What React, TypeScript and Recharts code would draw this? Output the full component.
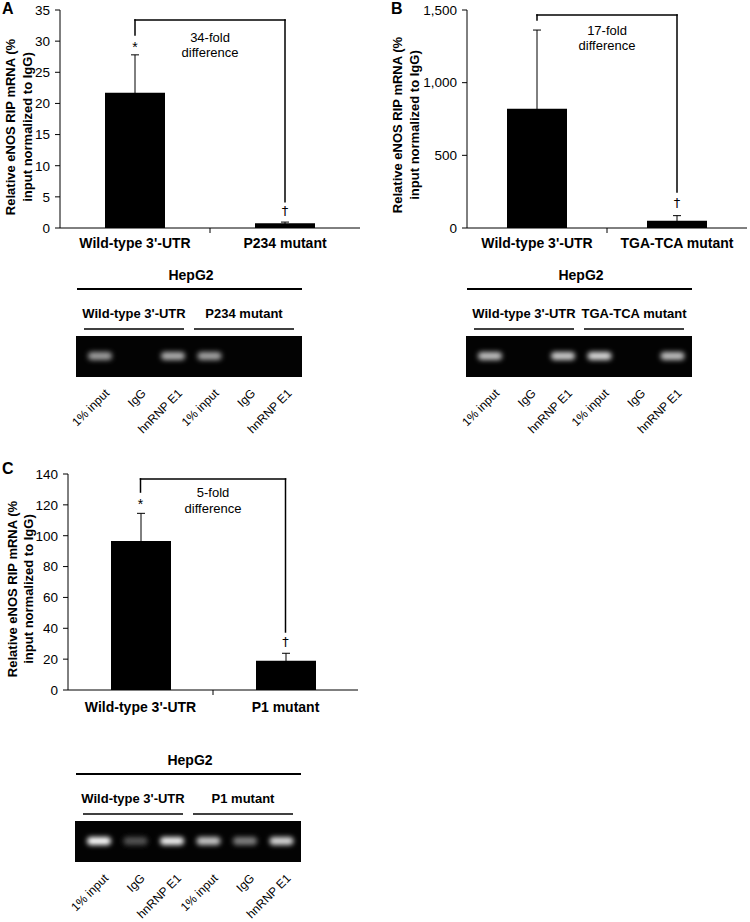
import React from 'react';
import { BarChart, Bar, XAxis, YAxis, ErrorBar, ReferenceLine, ReferenceDot, Label } from 'recharts';

const FONT = '"Liberation Sans", Arial, Helvetica, sans-serif';

// ---------- Panel A ----------
const catsA = ["Wild-type 3'-UTR", 'P234 mutant'];
const meansA = [21.7, 0.75];
const errsA = [6.1, 0.2];
const ticksA = [0, 5, 10, 15, 20, 25, 30, 35];
const bracketA = [33.4, 31.0, 4.2]; // top, left end, right end
const marksA = ['*', '†'];
const markYA = [29.1, 2.8];
const foldA = ['34-fold', 'difference'];

// ---------- Panel B ----------
const catsB = ["Wild-type 3'-UTR", 'TGA-TCA mutant'];
const meansB = [821, 50];
const errsB = [541, 35];
const ticksB = [0, 500, 1000, 1500];
const bracketB = [1466, 1431, 248];
const marksB = ['', '†'];
const markYB = [0, 174];
const foldB = ['17-fold', 'difference'];

// ---------- Panel C ----------
const catsC = ["Wild-type 3'-UTR", 'P1 mutant'];
const meansC = [96.5, 19];
const errsC = [18, 4.8];
const ticksC = [0, 20, 40, 60, 80, 100, 120, 140];
const bracketC = [136.8, 128.3, 37.6];
const marksC = ['*', '†'];
const markYC = [120.3, 31.3];
const foldC = ['5-fold', 'difference'];

// ---------- Gels ----------
const laneLabels = ['1% input', 'IgG', 'hnRNP E1', '1% input', 'IgG', 'hnRNP E1'];
const groupsA = ["Wild-type 3'-UTR", 'P234 mutant'];
const groupsB = ["Wild-type 3'-UTR", 'TGA-TCA mutant'];
const groupsC = ["Wild-type 3'-UTR", 'P1 mutant'];
const bandsA = [0.62, 0, 0.68, 0.64, 0, 0];
const bandsB = [0.75, 0, 0.8, 0.85, 0, 0.75];
const bandsC = [1.0, 0.32, 0.95, 0.78, 0.5, 0.85];
const cellLine = 'HepG2';

const yLabel1 = 'Relative eNOS RIP mRNA (%';
const yLabel2 = 'input normalized to IgG)';

const fmtComma = (v: number) => v.toLocaleString('en-US');

const GEL_W = 226;
const GEL_STEP = 36.5;
const gelPos = [
  { uid: 'a', x: 76, lineY: 289, groups: groupsA, bands: bandsA },
  { uid: 'b', x: 466, lineY: 289, groups: groupsB, bands: bandsB },
  { uid: 'c', x: 75, lineY: 774, groups: groupsC, bands: bandsC },
];

const CatTick = (props: any) => {
  const { x, y, payload, index, plotW, labelDy } = props;
  return (
    <g>
      <text x={x} y={y + labelDy} textAnchor="middle" dominantBaseline="central"
        fontWeight="bold" fontSize={14} fontFamily={FONT} fill="#000">{payload.value}</text>
      {index === 0 && (
        <line x1={x + plotW / 4} x2={x + plotW / 4} y1={y} y2={y + 5} stroke="#000" strokeWidth={1} />
      )}
    </g>
  );
};

const YLab = (props: any) => {
  const vb = props.viewBox || {};
  const cy = vb.y + vb.height / 2 + props.shift;
  const x1 = vb.x + props.off1;
  const x2 = vb.x + props.off2;
  return (
    <g>
      <g transform={`translate(${x1},${cy}) rotate(-90)`}>
        <text x={0} y={0} textAnchor="middle" dominantBaseline="central"
          fontWeight="bold" fontSize={13} fontFamily={FONT} fill="#000">{yLabel1}</text>
      </g>
      <g transform={`translate(${x2},${cy}) rotate(-90)`}>
        <text x={0} y={0} textAnchor="middle" dominantBaseline="central"
          fontWeight="bold" fontSize={13} fontFamily={FONT} fill="#000">{yLabel2}</text>
      </g>
    </g>
  );
};

const FoldLab = (props: any) => {
  const vb = props.viewBox || {};
  const cx = vb.x + (vb.width || 0) / 2;
  return (
    <g>
      <text x={cx} y={vb.y + props.d1} textAnchor="middle" dominantBaseline="central" fontSize={13}
        fontFamily={FONT} fill="#000">{props.lines[0]}</text>
      <text x={cx} y={vb.y + props.d2} textAnchor="middle" dominantBaseline="central" fontSize={13}
        fontFamily={FONT} fill="#000">{props.lines[1]}</text>
    </g>
  );
};

const MarkLab = (props: any) => {
  const vb = props.viewBox || {};
  const cx = vb.x + (vb.width || 0) / 2;
  const cy = vb.y + (vb.height || 0) / 2;
  const isDagger = props.mark === '†';
  return (
    <text x={cx} y={cy} textAnchor="middle" dominantBaseline="central" fontSize={isDagger ? 13 : 14}
      fontFamily={isDagger ? '"DejaVu Sans", ' + FONT : FONT} fill="#000" stroke="none">{props.mark}</text>
  );
};

function Panel(p: any) {
  const data = p.cats.map((c: string, i: number) => ({ cat: c, mean: p.means[i], err: p.errs[i] }));
  const plotW = p.width - p.margin.left - p.margin.right - p.yWidth;
  const [bTop, bLeft, bRight] = p.bracket;
  const lineProps = { stroke: '#000', strokeWidth: 1.5, strokeLinecap: 'square' as const, ifOverflow: 'visible' as const };
  return (
    <div style={{ position: 'absolute', left: p.left, top: p.top }}>
      <BarChart width={p.width} height={p.height} data={data} margin={p.margin} barCategoryGap={0}>
        <XAxis dataKey="cat" height={30} interval={0} axisLine={{ stroke: '#000', strokeWidth: 1 }}
          tickLine={false} tickSize={0} tickMargin={0}
          tick={<CatTick plotW={plotW} labelDy={p.labelDy} />} />
        <YAxis type="number" domain={[0, p.ticks[p.ticks.length - 1]]} ticks={p.ticks} interval={0}
          width={p.yWidth} axisLine={{ stroke: '#000', strokeWidth: 1 }} tickLine={{ stroke: '#000' }}
          tickSize={5} tickMargin={5} tickFormatter={p.fmt}
          tick={{ fill: '#000', fontSize: 13.5, fontFamily: FONT }}>
          <Label content={<YLab off1={p.yl1} off2={p.yl2} shift={p.ylShift} />} />
        </YAxis>
        <Bar dataKey="mean" fill="#000" barSize={60} isAnimationActive={false}>
          <ErrorBar dataKey="err" width={4} stroke="#000" strokeWidth={1} direction="y" isAnimationActive={false} />
        </Bar>
        <ReferenceLine segment={[{ x: p.cats[0], y: bTop }, { x: p.cats[1], y: bTop }]} {...lineProps}
          label={<FoldLab lines={p.fold} d1={p.fd1} d2={p.fd2} />} />
        <ReferenceLine segment={[{ x: p.cats[0], y: bLeft }, { x: p.cats[0], y: bTop }]} {...lineProps} />
        <ReferenceLine segment={[{ x: p.cats[1], y: bRight }, { x: p.cats[1], y: bTop }]} {...lineProps} />
        {p.marks.map((m: string, i: number) => m ? (
          <ReferenceDot key={i} x={p.cats[i]} y={p.markY[i]} r={0} fill="none" stroke="none"
            label={<MarkLab mark={m} />} />
        ) : null)}
      </BarChart>
    </div>
  );
}

function Gel({ x, lineY, groups, bands, uid }: any) {
  const w = GEL_W;
  const gelTop = lineY + 47;
  const gelH = 41;
  const bandY = gelTop + 20;
  const lane0 = x + 24;
  const step = GEL_STEP;
  return (
    <g fontFamily={FONT}>
      <defs>
        <filter id={`blur${uid}`} x="-50%" y="-100%" width="200%" height="300%">
          <feGaussianBlur stdDeviation="2.8" />
        </filter>
      </defs>
      <text x={x + w / 2 + 2} y={lineY - 14} textAnchor="middle" dominantBaseline="central" fontWeight="bold" fontSize={14} fill="#000">{cellLine}</text>
      <line x1={x + 1} x2={x + w} y1={lineY} y2={lineY} stroke="#000" strokeWidth={2} />
      {groups.map((g: string, i: number) => (
        <g key={i}>
          <text x={x + 58 + i * 110} y={lineY + 24} textAnchor="middle" dominantBaseline="central" fontWeight="bold" fontSize={13} fill="#000">{g}</text>
          <line x1={x + 8 + i * 110} x2={x + 108 + i * 110} y1={lineY + 40} y2={lineY + 40} stroke="#000" strokeWidth={1.6} />
        </g>
      ))}
      <rect x={x} y={gelTop} width={w} height={gelH} fill="#030303" />
      {bands.map((b: number, i: number) => b > 0 ? (
        <rect key={i} x={lane0 + i * step - 12} y={bandY - 4} width={24} height={8} rx={4}
          fill={`rgb(${Math.round(255 * b)},${Math.round(255 * b)},${Math.round(255 * b)})`} filter={`url(#blur${uid})`} />
      ) : null)}
      {laneLabels.map((l, i) => {
        const ax = lane0 + i * step + 10;
        const ay = gelTop + gelH + 17;
        return (
          <g key={`l${i}`} transform={`translate(${ax},${ay}) rotate(-45)`}>
            <text x={0} y={0} textAnchor="end" fontSize={12} fill="#000">{l}</text>
          </g>
        );
      })}
    </g>
  );
}

export default function App() {
  return (
    <div style={{ position: 'absolute', left: 0, top: 0, width: 750, height: 922, background: '#fff', fontFamily: FONT }}>
      <Panel left={0} top={0} width={365} height={260} margin={{ top: 10, right: 5, bottom: 2, left: 0 }}
        yWidth={60} cats={catsA} means={meansA} errs={errsA} ticks={ticksA} bracket={bracketA}
        marks={marksA} markY={markYA} fold={foldA} fd1={18} fd2={33} labelDy={15} yl1={10} yl2={27} ylShift={8} />
      <Panel left={385} top={0} width={365} height={260} margin={{ top: 10, right: 3, bottom: 2, left: 0 }}
        yWidth={82} cats={catsB} means={meansB} errs={errsB} ticks={ticksB} bracket={bracketB} fmt={fmtComma}
        marks={marksB} markY={markYB} fold={foldB} fd1={16} fd2={31} labelDy={15} yl1={12} yl2={29} ylShift={6} />
      <Panel left={0} top={460} width={365} height={270} margin={{ top: 14, right: 7, bottom: 10, left: 0 }}
        yWidth={68} cats={catsC} means={meansC} errs={errsC} ticks={ticksC} bracket={bracketC}
        marks={marksC} markY={markYC} fold={foldC} fd1={14} fd2={30} labelDy={17} yl1={12} yl2={28} ylShift={7} />
      <svg width={750} height={922} style={{ position: 'absolute', left: 0, top: 0, pointerEvents: 'none' }}>
        <g fontFamily={FONT} fontWeight="bold" fontSize={16} fill="#000">
          <text x={2} y={14}>A</text>
          <text x={391} y={14}>B</text>
          <text x={2} y={474}>C</text>
        </g>
        {gelPos.map((g) => <Gel key={g.uid} {...g} />)}
      </svg>
    </div>
  );
}
